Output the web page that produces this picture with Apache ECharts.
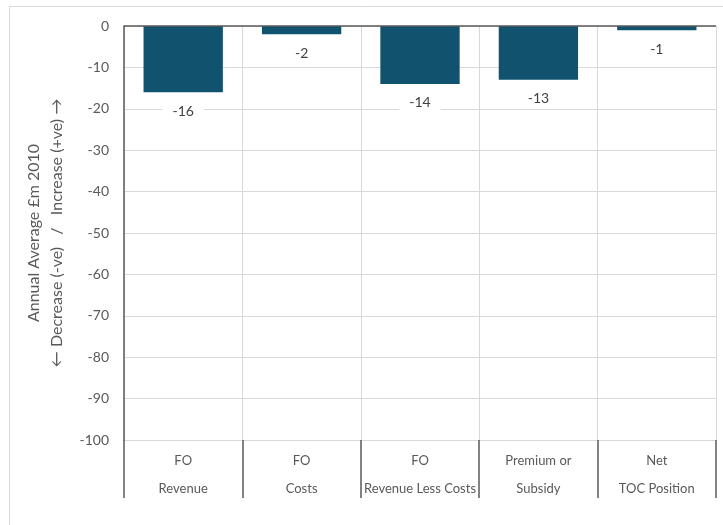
<!DOCTYPE html>
<html>
<head>
<meta charset="utf-8">
<script src="https://cdn.jsdelivr.net/npm/echarts@6/dist/echarts.min.js"></script>
<style>
  html, body { margin: 0; padding: 0; background: #ffffff; }
  #chart { width: 723px; height: 525px; }
</style>
</head>
<body>
<div id="chart"></div>
<script>
// Categories (two-line labels) and annual average change in £m (2010 prices)
const categories = ['FO\nRevenue', 'FO\nCosts', 'FO\nRevenue Less Costs', 'Premium or\nSubsidy', 'Net\nTOC Position'];
const values = [-16, -2, -14, -13, -1];
const yTicks = { min: -100, max: 0, step: 10 };
const yName = 'Annual Average £m 2010\n\u2190 Decrease (-ve)   /   Increase (+ve) \u2192';

const FONT = 'Lato, "Open Sans", sans-serif';
const chart = echarts.init(document.getElementById('chart'), null, { renderer: 'canvas' });

chart.setOption({
  backgroundColor: '#ffffff',
  animation: false,
  graphic: [{
    type: 'rect',
    shape: { x: 9.5, y: 6.5, width: 730, height: 540 },
    style: { fill: 'none', stroke: '#d9d9d9', lineWidth: 1 },
    silent: true
  }],
  grid: { left: 124, right: 7, top: 26, bottom: 85, containLabel: false },
  xAxis: {
    type: 'category',
    data: categories,
    position: 'bottom',
    axisLine: { show: false, onZero: false },
    axisTick: { show: true, length: 58, lineStyle: { color: '#595959', width: 1.5 } },
    splitLine: { show: true, lineStyle: { color: '#d9d9d9', width: 1 } },
    axisLabel: {
      interval: 0,
      margin: 7,
      color: '#595959',
      fontFamily: FONT,
      fontSize: 13,
      lineHeight: 28
    }
  },
  yAxis: {
    type: 'value',
    min: yTicks.min,
    max: yTicks.max,
    interval: yTicks.step,
    name: yName,
    nameLocation: 'middle',
    nameRotate: 90,
    nameGap: 52,
    nameTextStyle: { color: '#595959', fontFamily: FONT, fontSize: 16, lineHeight: 23 },
    axisLine: { show: true, lineStyle: { color: '#595959', width: 1.5 } },
    axisTick: { show: false },
    splitLine: { show: true, lineStyle: { color: '#d9d9d9', width: 1 } },
    axisLabel: { color: '#595959', fontFamily: FONT, fontSize: 14, margin: 15 }
  },
  series: [{
    type: 'bar',
    data: values,
    barWidth: '67%',
    itemStyle: { color: '#11536f' },
    label: {
      show: true,
      position: 'bottom',
      distance: 9,
      color: '#404040',
      fontFamily: FONT,
      fontSize: 14,
      backgroundColor: '#ffffff',
      padding: [3, 10]
    },
    // horizontal axis line where values cross zero
    markLine: {
      silent: true,
      symbol: 'none',
      label: { show: false },
      lineStyle: { color: '#595959', width: 1.5, type: 'solid' },
      data: [{ yAxis: 0 }]
    }
  }]
});
</script>
</body>
</html>
